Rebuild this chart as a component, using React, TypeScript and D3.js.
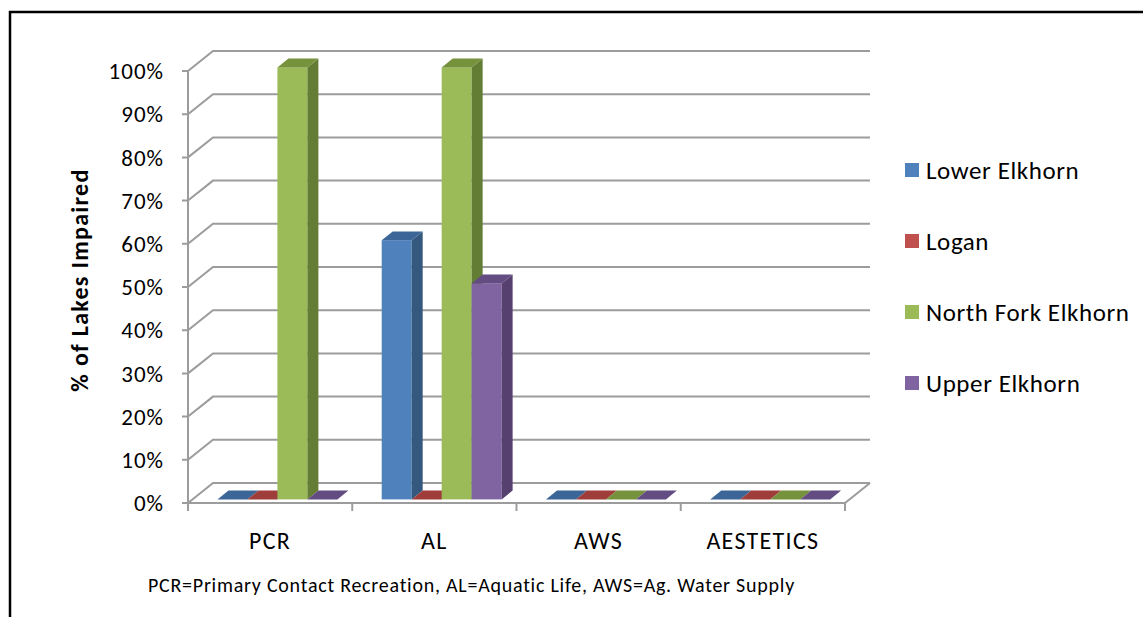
import React from "react";
import * as d3 from "d3";

// Impairment share by designated use and watershed
const categories = ["PCR", "AL", "AWS", "AESTETICS"];
const series = ["Lower Elkhorn", "Logan", "North Fork Elkhorn", "Upper Elkhorn"];
const lowerElkhorn = [0, 0.6, 0, 0];
const logan = [0, 0, 0, 0];
const northForkElkhorn = [1, 1, 0, 0];
const upperElkhorn = [0, 0.5, 0, 0];
const seriesValues = [lowerElkhorn, logan, northForkElkhorn, upperElkhorn];
const yTicks = [0, 0.1, 0.2, 0.3, 0.4, 0.5, 0.6, 0.7, 0.8, 0.9, 1];
const footnote = "PCR=Primary Contact Recreation, AL=Aquatic Life, AWS=Ag. Water Supply";

// face colours: front, top, right side
const palette = [
  { front: "#4F81BD", top: "#3D6698", side: "#35587F" },
  { front: "#C0504D", top: "#9E3D3A", side: "#8A3533" },
  { front: "#9BBB59", top: "#76923C", side: "#647D35" },
  { front: "#8064A2", top: "#634C81", side: "#56406F" },
];

const W = 1143;
const H = 617;
const FONT = "Carlito, Lato, 'Open Sans', sans-serif";
const GRID = "#9c9c9c";

// 3D projection: depth d in [0,1] shifts right and up
const DX = 25;
const DY = 20;
const BAR_D0 = 0.18;
const BAR_D1 = 0.62;

export default function App() {
  const x = d3.scaleBand<string>().domain(categories).range([188, 845]).padding(0);
  const y = d3.scaleLinear().domain([0, 1]).range([503, 71]);
  const bw = x.bandwidth();
  const inner = d3
    .scaleBand<string>()
    .domain(series)
    .range([bw * 0.152, bw * 0.152 + bw * 0.73])
    .padding(0);

  const x0 = x.range()[0];
  const x1 = x.range()[1];
  const fmt = d3.format(".0%");

  const bars: React.ReactNode[] = [];
  categories.forEach((c, ci) => {
    series.forEach((s, si) => {
      const v = seriesValues[si][ci];
      const col = palette[si];
      const ox = BAR_D0 * DX;
      const oy = BAR_D0 * DY;
      const ddx = (BAR_D1 - BAR_D0) * DX;
      const ddy = (BAR_D1 - BAR_D0) * DY;
      const bx = (x(c) as number) + (inner(s) as number) + ox;
      const w = inner.bandwidth();
      const yb = y(0) - oy;
      const yt = y(v) - oy;
      const key = `${ci}-${si}`;
      bars.push(
        <g key={key}>
          {v > 0 && <rect x={bx} y={yt} width={w} height={yb - yt} fill={col.front} />}
          {v > 0 && (
            <polygon
              points={`${bx + w},${yt} ${bx + w + ddx},${yt - ddy} ${bx + w + ddx},${yb - ddy} ${bx + w},${yb}`}
              fill={col.side}
            />
          )}
          <polygon
            points={`${bx},${yt} ${bx + ddx},${yt - ddy} ${bx + w + ddx},${yt - ddy} ${bx + w},${yt}`}
            fill={col.top}
          />
        </g>
      );
    });
  });

  return (
    <svg
      width={W}
      height={H}
      style={{ position: "absolute", left: 0, top: 0, background: "#fff" }}
      fontFamily={FONT}
    >
      <rect x={0} y={0} width={W} height={H} fill="#fff" />
      <rect x={10} y={12} width={W + 40} height={H + 40} fill="none" stroke="#000" strokeWidth={2.5} />

      {/* walls: gridlines running over the left wall and along the back */}
      {yTicks.map((t) => (
        <polyline
          key={t}
          points={`${x0 - 6},${y(t)} ${x0},${y(t)} ${x0 + DX},${y(t) - DY} ${x1 + DX},${y(t) - DY}`}
          fill="none"
          stroke={GRID}
          strokeWidth={2}
        />
      ))}
      {/* value axis and floor */}
      <line x1={x0} x2={x0} y1={y(1)} y2={y(0) + 8} stroke={GRID} strokeWidth={2} />
      <polyline
        points={`${x0},${y(0)} ${x1},${y(0)} ${x1 + DX},${y(0) - DY}`}
        fill="none"
        stroke={GRID}
        strokeWidth={2}
      />
      {categories.map((c) => (
        <line
          key={c}
          x1={(x(c) as number) + bw}
          x2={(x(c) as number) + bw}
          y1={y(0)}
          y2={y(0) + 8}
          stroke={GRID}
          strokeWidth={2}
        />
      ))}

      {bars}

      {/* value labels */}
      {yTicks.map((t) => (
        <text
          key={t}
          x={164}
          y={y(t)}
          dy="0.36em"
          textAnchor="end"
          fontSize={23}
          letterSpacing={1}
          fill="#000"
        >
          {fmt(t)}
        </text>
      ))}
      <text
        transform={`translate(88,${(y(0) + y(1)) / 2 - 7}) rotate(-90)`}
        textAnchor="middle"
        fontSize={24}
        letterSpacing={1.3}
        fontWeight="bold"
        fill="#000"
      >
        % of Lakes Impaired
      </text>

      {/* category labels */}
      {categories.map((c) => (
        <text
          key={c}
          x={(x(c) as number) + bw / 2}
          y={540}
          dy="0.36em"
          textAnchor="middle"
          fontSize={24}
          letterSpacing={1.3}
          fill="#000"
        >
          {c}
        </text>
      ))}

      <text x={148} y={585} dy="0.36em" fontSize={20} letterSpacing={0.75} fill="#000">
        {footnote}
      </text>

      {/* legend */}
      {series.map((s, i) => (
        <g key={s} transform={`translate(905,${170 + i * 71})`}>
          <rect x={0} y={-7} width={14} height={14} fill={palette[i].front} />
          <text x={21} y={0} dy="0.36em" fontSize={25} letterSpacing={0.6} fill="#000">
            {s}
          </text>
        </g>
      ))}
    </svg>
  );
}
